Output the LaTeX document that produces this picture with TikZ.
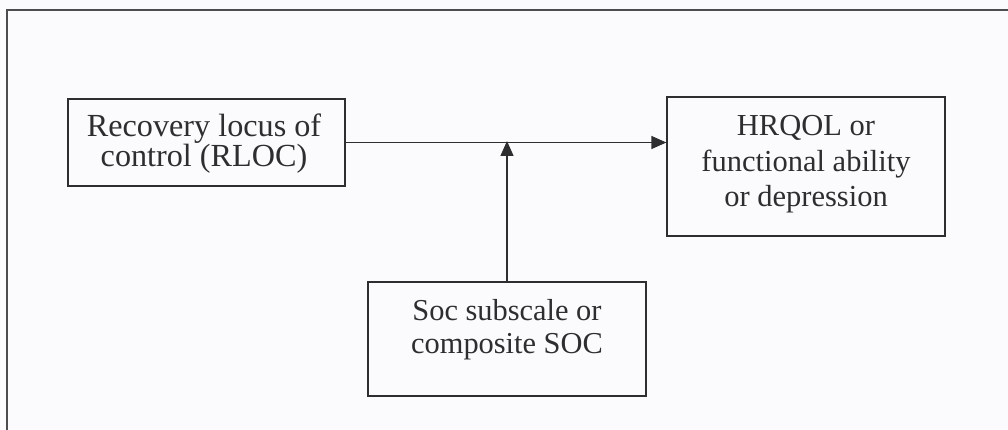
\documentclass[tikz,border=0pt]{standalone}
\usepackage{fontspec}
\setmainfont{Liberation Serif}
\usetikzlibrary{arrows.meta}
\definecolor{ink}{HTML}{2E2E30}
\definecolor{paper}{HTML}{FBFBFD}
\newcommand{\boxfont}[2]{\fontsize{#1}{#2}\selectfont\setlength{\lineskiplimit}{-50pt}}
\begin{document}
\begin{tikzpicture}[x=1pt,y=-1pt,
  box/.style={draw=ink,line width=1.3pt,rectangle,inner sep=0pt},
  txt/.style={text=ink,align=center,anchor=base,inner sep=0pt},
  link/.style={draw=ink,line width=1.3pt,-{Triangle[length=15pt,width=13pt]}},
  frame/.style={draw=ink!85,line width=1.5pt}]
  % page area and outer frame (only top and left edges fall inside)
  \fill[paper] (0,0) rectangle (1008,430);
  \useasboundingbox (0,0) rectangle (1008,430);
  \coordinate (fbl) at (7,440);
  \coordinate (ftl) at (7,10);
  \coordinate (ftr) at (1020,10);
  \draw[frame] (fbl) -- (ftl) -- (ftr);

  % boxes
  \node[box,minimum width=277pt,minimum height=87pt] (rloc) at (206.5,142.5) {};
  \node[box,minimum width=278pt,minimum height=139pt] (out) at (806,166.5) {};
  \node[box,minimum width=278pt,minimum height=114pt] (soc) at (507,339) {};

  % texts (anchored at the baseline of the last line)
  \node[txt,font={\boxfont{32.2}{30}}] (t1) at (204,167)
    {Recovery locus of\\control (RLOC)};
  \node[txt,font={\boxfont{30.5}{35.8}}] (t2) at (806,207)
    {HRQOL or\\functional ability\\or depression};
  \node[txt,font={\boxfont{30.4}{33}}] (t3) at (507,353)
    {Soc subscale or\\composite SOC};

  % connectors
  \coordinate (join) at (soc.north |- rloc.east);
  \draw[link] (rloc.east) -- (rloc.east -| out.west);
  \draw[link] (soc.north) -- ([yshift=1.5pt]join);
\end{tikzpicture}
\end{document}
